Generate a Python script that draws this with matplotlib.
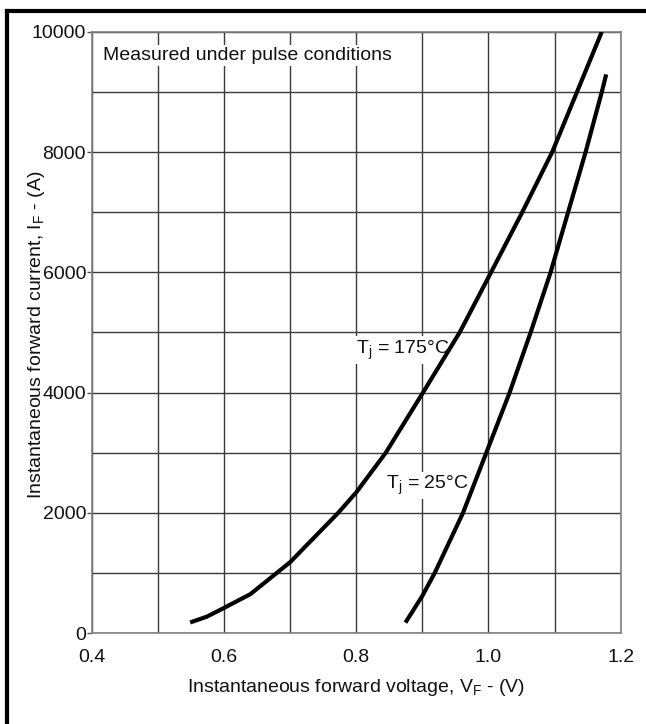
import matplotlib
matplotlib.use('Agg')
import matplotlib.pyplot as plt
from matplotlib.lines import Line2D
from matplotlib.ticker import MultipleLocator

plt.rcParams['font.family'] = ['Liberation Sans', 'DejaVu Sans']
plt.rcParams['mathtext.fontset'] = 'custom'
plt.rcParams['mathtext.rm'] = 'Liberation Sans'
plt.rcParams['mathtext.it'] = 'Liberation Sans:italic'

# Forward characteristic at Tj = 175 C (V, A)
vf_175 = [0.549, 0.574, 0.6, 0.64, 0.6796, 0.7, 0.7727, 0.8, 0.8447, 0.901,
          0.9565, 1.004, 1.0512, 1.0965, 1.134, 1.1715]
if_175 = [180, 275, 420, 650, 1000, 1180, 2000, 2340, 3000, 4000,
          5000, 6000, 7000, 8000, 9000, 10000]

# Forward characteristic at Tj = 25 C (V, A)
vf_25 = [0.8745, 0.9, 0.9187, 0.9615, 0.9968, 1.032, 1.0638, 1.094, 1.1205, 1.147, 1.1715, 1.1781]
if_25 = [177, 620, 1000, 2000, 3000, 4000, 5000, 6000, 7000, 8000, 9000, 9290]

x_ticks = [0.4, 0.6, 0.8, 1.0, 1.2]
y_ticks = [0, 2000, 4000, 6000, 8000, 10000]

fig = plt.figure(figsize=(6.46, 7.24), dpi=100)
ax = fig.add_axes([0.1418, 0.1253, 0.819, 0.8309])

for vf, cur in ((vf_175, if_175), (vf_25, if_25)):
    ax.plot(vf, cur, color='k', linewidth=3, solid_capstyle='butt',
            solid_joinstyle='round', zorder=4)

ax.set_xlim(0.4, 1.2)
ax.set_ylim(0, 10000)
ax.set_xticks(x_ticks)
ax.set_xticklabels(['%.1f' % v for v in x_ticks])
ax.set_yticks(y_ticks)
ax.xaxis.set_minor_locator(MultipleLocator(0.1))
ax.yaxis.set_minor_locator(MultipleLocator(1000))
ax.grid(True, which='both', color='#3a3a3a', linewidth=1)
ax.set_axisbelow(True)

ax.tick_params(axis='x', which='both', length=0, pad=11, labelsize=14, colors='#111111')
ax.tick_params(axis='y', which='major', length=3.5, width=1, pad=0.5, labelsize=14,
               color='#555555', labelcolor='#111111')
ax.tick_params(axis='y', which='minor', length=0)
for s in ax.spines.values():
    s.set_color('#808080')
    s.set_linewidth(1.2)

ax.set_xlabel('Instantaneous forward voltage, V$_{\\rm F}$ - (V)', fontsize=14, labelpad=8, color='#111111')
ax.set_ylabel('Instantaneous forward current, I$_{\\rm F}$ - (A)', fontsize=14, color='#111111')
ax.yaxis.set_label_coords(-0.085, 0.497)

box = dict(facecolor='white', edgecolor='none', pad=1.5)
ax.text(0.4172, 9610, 'Measured under pulse conditions', fontsize=14, va='center', ha='left',
        bbox=box, zorder=3, color='#111111')
ax.text(0.8005, 4710, 'T$_{\\rm j}$ = 175°C', fontsize=14, va='center', ha='left',
        bbox=box, zorder=3, color='#111111')
ax.text(0.8458, 2460, 'T$_{\\rm j}$ = 25°C', fontsize=14, va='center', ha='left',
        bbox=box, zorder=3, color='#111111')

# page frame, top and left edges
fig.add_artist(Line2D([7 / 646, 1.0], [1 - 11 / 724, 1 - 11 / 724], transform=fig.transFigure,
                      color='k', linewidth=3, solid_capstyle='projecting'))
fig.add_artist(Line2D([7 / 646, 7 / 646], [0.0, 1 - 11 / 724], transform=fig.transFigure,
                      color='k', linewidth=3, solid_capstyle='projecting'))

fig.savefig('out.png', dpi=100)
